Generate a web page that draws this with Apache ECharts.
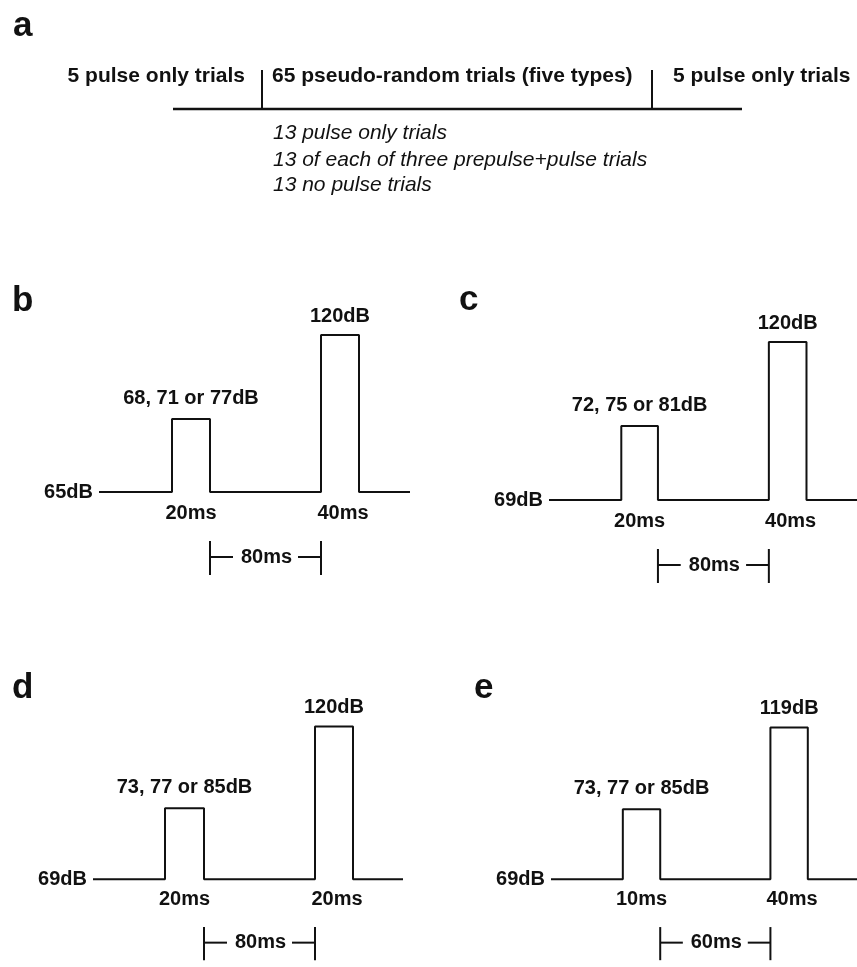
<!DOCTYPE html>
<html>
<head>
<meta charset="utf-8">
<script src="https://cdn.jsdelivr.net/npm/echarts@6/dist/echarts.min.js"></script>
<style>
html, body { margin: 0; padding: 0; background: #fff; }
#main { width: 857px; height: 967px; }
</style>
</head>
<body>
<div id="main"></div>
<script>
// ---- panel a: session timeline (drawing units along the line) ----
var blockEdges = [0, 89, 479, 569];          // line start, divider, divider, line end
var dividerHeight = 39;
var blockLabels = ['5 pulse only trials', '65 pseudo-random trials (five types)', '5 pulse only trials'];
var blockLabelX = [72, 99, 500];
var blockLabelY = 33;
var detailLines = ['13 pulse only trials', '13 of each of three prepulse+pulse trials', '13 no pulse trials'];
var detailX = 100;
var detailY = [-24, -51, -76];

// ---- panels b-e: stimulus traces (x in drawing units, level above background) ----
var panelLetters = ['b', 'c', 'd', 'e'];
var traceX = [
    [0, 73, 73, 111, 111, 222, 222, 260, 260, 311],
    [0, 73, 73, 110, 110, 222, 222, 260, 260, 311],
    [0, 72, 72, 111, 111, 222, 222, 260, 260, 310],
    [0, 73, 73, 111, 111, 223, 223, 261, 261, 311]
];
var traceLevel = [
    [0, 0, 73, 73, 0, 0, 157, 157, 0, 0],
    [0, 0, 74, 74, 0, 0, 158, 158, 0, 0],
    [0, 0, 73, 73, 0, 0, 157, 157, 0, 0],
    [0, 0, 72, 72, 0, 0, 156, 156, 0, 0]
];
var backgroundLabels = ['65dB', '69dB', '69dB', '69dB'];
var prepulseLabels = ['68, 71 or 77dB', '72, 75 or 81dB', '73, 77 or 85dB', '73, 77 or 85dB'];
var pulseLabels = ['120dB', '120dB', '120dB', '119dB'];
var prepulseDur = ['20ms', '20ms', '20ms', '10ms'];
var pulseDur = ['40ms', '40ms', '20ms', '40ms'];
var gapLabels = ['80ms', '80ms', '80ms', '60ms'];

var ink = '#111';
var font = '"Liberation Sans", Arial, Helvetica, sans-serif';

// where each panel sits on the page
var panelLeft = [99, 549, 93, 551];
var panelBase = [492, 500, 884, 884];

var myChart = echarts.init(document.getElementById('main'));

function seg(gi, pts, w) {
    return {
        type: 'line', xAxisIndex: gi, yAxisIndex: gi,
        data: pts, symbol: 'none', silent: true, clip: false,
        lineStyle: { color: ink, width: w || 2 }
    };
}

function texts(gi, items) {
    return {
        type: 'scatter', xAxisIndex: gi, yAxisIndex: gi,
        symbolSize: 0, silent: true, clip: false,
        itemStyle: { opacity: 1 },
        data: items.map(function (it) {
            return {
                value: [it.x, it.y],
                label: {
                    show: true,
                    position: it.pos || 'inside',
                    distance: it.dist || 0,
                    formatter: function () { return it.text; },
                    color: ink,
                    opacity: 1,
                    fontFamily: font,
                    fontSize: it.size || 20,
                    fontWeight: it.italic ? 'normal' : 'bold',
                    fontStyle: it.italic ? 'italic' : 'normal'
                }
            };
        })
    };
}

var grids = [{ left: 173, top: 64, width: 569, height: 135 }];
var xAxes = [{ type: 'value', gridIndex: 0, min: 0, max: blockEdges[3], show: false }];
var yAxes = [{ type: 'value', gridIndex: 0, min: -90, max: 45, show: false }];
var series = [];

// panel a
series.push(seg(0, [[blockEdges[0], 0], [blockEdges[3], 0]], 2.5));
series.push(seg(0, [[blockEdges[1], 0], [blockEdges[1], dividerHeight]], 2));
series.push(seg(0, [[blockEdges[2], 0], [blockEdges[2], dividerHeight]], 2));
series.push(texts(0, [
    { x: blockLabelX[0], y: blockLabelY, text: blockLabels[0], pos: 'left', size: 21 },
    { x: blockLabelX[1], y: blockLabelY, text: blockLabels[1], pos: 'right', size: 21 },
    { x: blockLabelX[2], y: blockLabelY, text: blockLabels[2], pos: 'right', size: 21 }
].concat(detailLines.map(function (t, i) {
    return { x: detailX, y: detailY[i], text: t, pos: 'right', size: 21, italic: true };
}))));

// panels b-e
panelLetters.forEach(function (letter, p) {
    var gi = p + 1;
    var xs = traceX[p], ys = traceLevel[p];
    grids.push({ left: panelLeft[p], top: panelBase[p] - 180, width: 311, height: 270 });
    xAxes.push({ type: 'value', gridIndex: gi, min: 0, max: 311, show: false });
    yAxes.push({ type: 'value', gridIndex: gi, min: -90, max: 180, show: false });

    series.push(seg(gi, xs.map(function (x, i) { return [x, ys[i]]; })));

    var gapStart = xs[3], gapEnd = xs[5];
    series.push(seg(gi, [[gapStart, -49], [gapStart, -83]]));
    series.push(seg(gi, [[gapEnd, -49], [gapEnd, -83]]));
    series.push(seg(gi, [[gapStart, -65], [gapStart + 23, -65]]));
    series.push(seg(gi, [[gapEnd - 23, -65], [gapEnd, -65]]));

    var preMid = (xs[2] + xs[3]) / 2, pulseMid = (xs[6] + xs[7]) / 2;
    series.push(texts(gi, [
        { x: 0, y: 0, text: backgroundLabels[p], pos: 'left', dist: 6 },
        { x: preMid, y: ys[2] + 21, text: prepulseLabels[p] },
        { x: pulseMid, y: ys[6] + 19, text: pulseLabels[p] },
        { x: preMid, y: -21, text: prepulseDur[p] },
        { x: pulseMid + 3, y: -21, text: pulseDur[p] },
        { x: (gapStart + gapEnd) / 2 + 1, y: -65, text: gapLabels[p] }
    ]));
});

var letters = [
    { t: 'a', x: 13, y: 26 },
    { t: 'b', x: 12, y: 301 },
    { t: 'c', x: 459, y: 300 },
    { t: 'd', x: 12, y: 688 },
    { t: 'e', x: 474, y: 688 }
];

var option = {
    animation: false,
    backgroundColor: '#fff',
    grid: grids,
    xAxis: xAxes,
    yAxis: yAxes,
    series: series,
    graphic: letters.map(function (l) {
        return {
            type: 'text', x: l.x, y: l.y, silent: true,
            style: {
                text: l.t, fill: ink,
                font: 'bold 35px ' + font,
                align: 'left', verticalAlign: 'middle'
            }
        };
    })
};
myChart.setOption(option);
</script>
</body>
</html>
